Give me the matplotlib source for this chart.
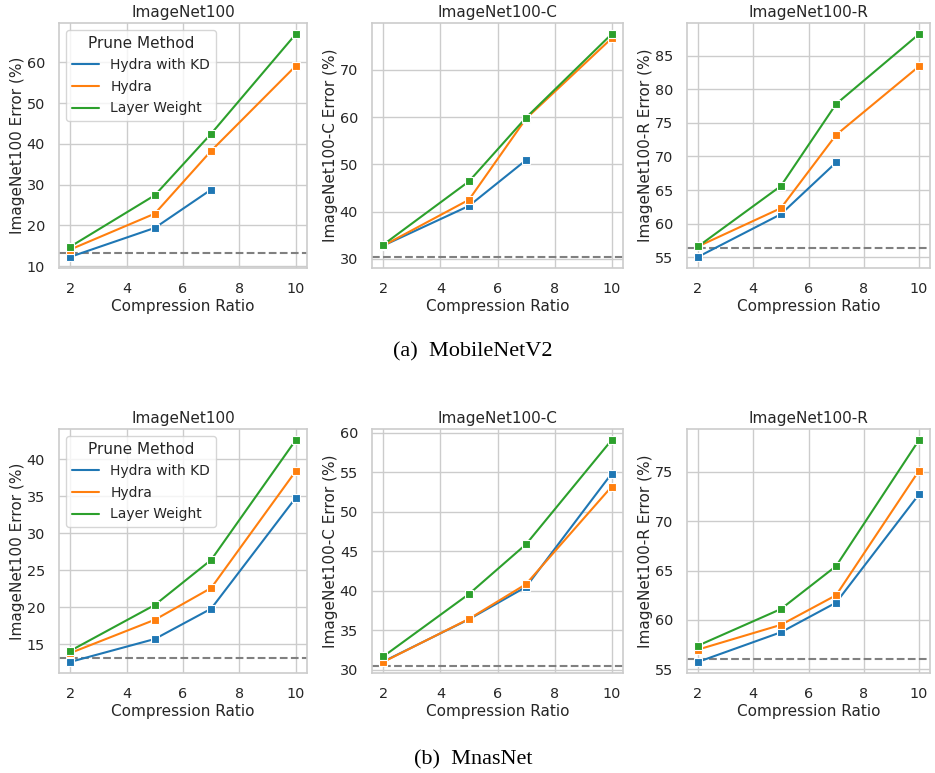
import matplotlib
matplotlib.use("Agg")
import matplotlib.pyplot as plt
import seaborn as sns
from matplotlib.lines import Line2D

sns.set_theme(style="whitegrid")
plt.rcParams['font.family'] = ['DejaVu Sans']

ratios = [2, 5, 7, 10]
methods = ["Hydra with KD", "Hydra", "Layer Weight"]
colors = ["#1f77b4", "#ff7f0e", "#2ca02c"]
titles = ["ImageNet100", "ImageNet100-C", "ImageNet100-R"]
ylabels = ["ImageNet100 Error (%)", "ImageNet100-C Error (%)", "ImageNet100-R Error (%)"]

# MobileNetV2
mb_in100_kd = [12.3, 19.4, 28.8, None]
mb_in100_hydra = [14.1, 22.9, 38.3, 59.1]
mb_in100_lw = [14.8, 27.4, 42.5, 66.9]
mb_in100_base = 13.3

mb_c_kd = [32.8, 41.2, 50.9, None]
mb_c_hydra = [32.8, 42.5, 59.7, 76.7]
mb_c_lw = [33.0, 46.4, 59.9, 77.6]
mb_c_base = 30.4

mb_r_kd = [55.05, 61.4, 69.1, None]
mb_r_hydra = [56.6, 62.3, 73.2, 83.4]
mb_r_lw = [56.6, 65.6, 77.8, 88.2]
mb_r_base = 56.3

# MnasNet
mn_in100_kd = [12.6, 15.7, 19.8, 34.8]
mn_in100_hydra = [13.8, 18.3, 22.6, 38.4]
mn_in100_lw = [14.1, 20.3, 26.4, 42.6]
mn_in100_base = 13.15

mn_c_kd = [31.05, 36.4, 40.5, 54.85]
mn_c_hydra = [31.0, 36.45, 40.85, 53.2]
mn_c_lw = [31.7, 39.6, 45.9, 59.1]
mn_c_base = 30.42

mn_r_kd = [55.75, 58.75, 61.75, 72.7]
mn_r_hydra = [57.0, 59.5, 62.5, 75.1]
mn_r_lw = [57.4, 61.1, 65.45, 78.2]
mn_r_base = 56.05

rows = [
    [(mb_in100_kd, mb_in100_hydra, mb_in100_lw, mb_in100_base),
     (mb_c_kd, mb_c_hydra, mb_c_lw, mb_c_base),
     (mb_r_kd, mb_r_hydra, mb_r_lw, mb_r_base)],
    [(mn_in100_kd, mn_in100_hydra, mn_in100_lw, mn_in100_base),
     (mn_c_kd, mn_c_hydra, mn_c_lw, mn_c_base),
     (mn_r_kd, mn_r_hydra, mn_r_lw, mn_r_base)],
]
captions = ["(a)  MobileNetV2", "(b)  MnasNet"]

W, H = 935, 773
fig = plt.figure(figsize=(W / 100, H / 100), dpi=100)

col_px = [(59, 307), (372, 623), (687, 930)]
row_px = [(23, 268), (429, 673)]
caption_y = [352, 760]

for r, row in enumerate(rows):
    top, bot = row_px[r]
    for c, panel in enumerate(row):
        l, rr = col_px[c]
        ax = fig.add_axes([l / W, 1 - bot / H, (rr - l) / W, (bot - top) / H])
        for s, vals in enumerate(panel[:3]):
            xs = [x for x, v in zip(ratios, vals) if v is not None]
            ys = [v for v in vals if v is not None]
            ax.plot(xs, ys, color=colors[s], lw=1.5, marker='s', ms=6.2,
                    mec='white', mew=0.8, zorder=3)
        ax.axhline(panel[3], color='gray', ls='--', lw=1.5, zorder=2)
        ax.set_title(titles[c], fontsize=11, color='0.15', pad=4)
        ax.set_ylabel(ylabels[c], fontsize=11, color='0.15', labelpad=1.5)
        ax.set_xlabel("Compression Ratio", fontsize=11, color='0.15', labelpad=2)
        ax.set_xticks([2, 4, 6, 8, 10])
        ax.tick_params(labelsize=10.4, colors='0.15', pad=4)
        for sp in ax.spines.values():
            sp.set_color('0.8')
            sp.set_linewidth(1.2)
        if c == 0:
            handles = [Line2D([0], [0], color=colors[i], lw=1.5) for i in range(3)]
            leg = ax.legend(handles, methods, title="Prune Method", loc='upper left',
                            fontsize=10, title_fontsize=11, frameon=True,
                            borderaxespad=0.5, labelspacing=0.55)
            leg.get_frame().set_edgecolor('0.8')
    fig.text(0.506, 1 - caption_y[r] / H, captions[r], ha='center', va='center',
             fontsize=16, family='Liberation Serif', color='black')

fig.savefig("out.png", dpi=100)
